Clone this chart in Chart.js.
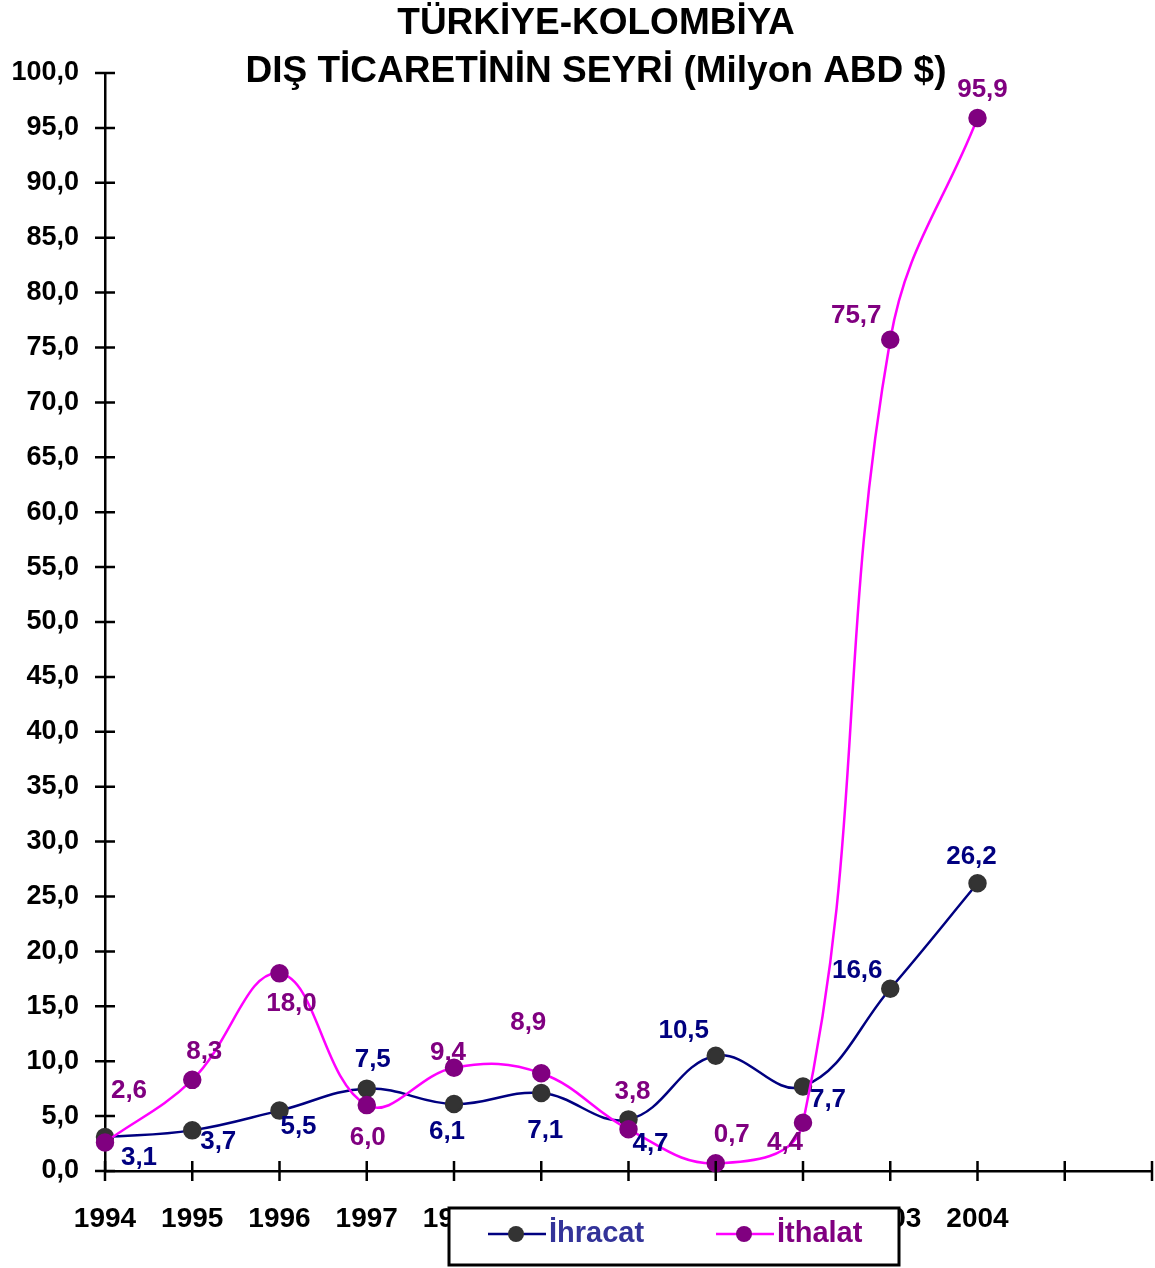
<!DOCTYPE html>
<html>
<head>
<meta charset="utf-8">
<script src="https://cdn.jsdelivr.net/npm/chart.js@4.4.0/dist/chart.umd.min.js"></script>
<style>
  html, body { margin: 0; padding: 0; background: #fff; }
  #wrap { width: 1155px; height: 1268px; position: relative; }
</style>
</head>
<body>
<div id="wrap"><canvas id="chart"></canvas></div>
<script>
// data
const years = ['1994', '1995', '1996', '1997', '1998', '1999', '2000', '2001', '2002', '2003', '2004', '', ''];
const ihracat = [3.1, 3.7, 5.5, 7.5, 6.1, 7.1, 4.7, 10.5, 7.7, 16.6, 26.2];
const ithalat = [2.6, 8.3, 18.0, 6.0, 9.4, 8.9, 3.8, 0.7, 4.4, 75.7, 95.9];
const yMin = 0;
const yMax = 100;
const yStep = 5;

// where each value label sits relative to its point (dx, dy)
const ihracatLabelPos = [[34, 21], [26, 11], [19, 16], [6, -29], [-7, 28], [4, 38], [22, 24], [-32, -25], [25, 13], [-33, -18], [-6, -26]];
const ithalatLabelPos = [[24, -52], [12, -28], [12, 30], [1, 33], [-6, -15], [-13, -50], [4, -37], [16, -28], [-18, 20], [-34, -24], [5, -28]];

const FONT = "'Liberation Sans', Arial, sans-serif";
const fmt = v => v.toFixed(1).replace('.', ',');

const decorPlugin = {
  id: 'decor',
  afterDatasetsDraw(chart) {
    const ctx = chart.ctx;
    ctx.save();
    ctx.font = 'bold 26px ' + FONT;
    ctx.textAlign = 'center';
    ctx.textBaseline = 'middle';
    const sets = [[0, ihracatLabelPos, '#000080'], [1, ithalatLabelPos, '#800080']];
    sets.forEach(([di, pos, col]) => {
      const meta = chart.getDatasetMeta(di);
      const data = chart.data.datasets[di].data;
      ctx.fillStyle = col;
      meta.data.forEach((pt, i) => {
        ctx.fillText(fmt(data[i]), pt.x + pos[i][0], pt.y + pos[i][1]);
      });
    });
    ctx.restore();
  },
  afterDraw(chart) {
    const ctx = chart.ctx;
    const xs = chart.scales.x;
    const ys = chart.scales.y;
    const area = chart.chartArea;
    ctx.save();
    // crossing tick marks
    ctx.strokeStyle = '#000';
    ctx.lineWidth = 2.5;
    ctx.beginPath();
    ys.ticks.forEach((t, i) => {
      const y = ys.getPixelForTick(i);
      ctx.moveTo(area.left - 10, y);
      ctx.lineTo(area.left + 10, y);
    });
    xs.ticks.forEach((t, i) => {
      const x = xs.getPixelForTick(i);
      ctx.moveTo(x, area.bottom - 10);
      ctx.lineTo(x, area.bottom + 10);
    });
    ctx.stroke();

    // title
    ctx.fillStyle = '#000';
    ctx.textAlign = 'center';
    ctx.textBaseline = 'middle';
    ctx.font = 'bold 37px ' + FONT;
    ctx.fillText('TÜRKİYE-KOLOMBİYA', 596, 24);
    ctx.fillText('DIŞ TİCARETİNİN SEYRİ (Milyon ABD $)', 596, 72);

    // legend box
    ctx.fillStyle = '#fff';
    ctx.fillRect(449, 1208, 450, 57);
    ctx.lineWidth = 3;
    ctx.strokeStyle = '#000';
    ctx.strokeRect(449, 1208, 450, 57);
    const items = [
      { label: 'İhracat', line: '#000080', dot: '#333333', text: '#333399', x: 488 },
      { label: 'İthalat', line: '#FF00FF', dot: '#800080', text: '#800080', x: 716 }
    ];
    items.forEach(it => {
      const cy = 1234;
      ctx.strokeStyle = it.line;
      ctx.lineWidth = 2.5;
      ctx.beginPath();
      ctx.moveTo(it.x, cy);
      ctx.lineTo(it.x + 58, cy);
      ctx.stroke();
      ctx.fillStyle = it.dot;
      ctx.beginPath();
      ctx.arc(it.x + 28, cy, 8, 0, Math.PI * 2);
      ctx.fill();
      ctx.fillStyle = it.text;
      ctx.font = 'bold 29px ' + FONT;
      ctx.textAlign = 'left';
      ctx.fillText(it.label, it.x + 61, cy);
    });
    ctx.restore();
  }
};

const ctx = document.getElementById('chart').getContext('2d');
new Chart(ctx, {
  type: 'line',
  data: {
    labels: years,
    datasets: [
      {
        label: 'İhracat',
        data: ihracat,
        borderColor: '#000080',
        backgroundColor: '#333333',
        pointBackgroundColor: '#333333',
        pointBorderColor: '#333333',
        pointRadius: 8,
        borderWidth: 2.5,
        tension: 0.4,
        clip: false,
        order: 2
      },
      {
        label: 'İthalat',
        data: ithalat,
        borderColor: '#FF00FF',
        backgroundColor: '#800080',
        pointBackgroundColor: '#800080',
        pointBorderColor: '#800080',
        pointRadius: 8,
        borderWidth: 2.5,
        tension: 0.4,
        clip: false,
        order: 1
      }
    ]
  },
  options: {
    responsive: true,
    maintainAspectRatio: false,
    animation: false,
    layout: { autoPadding: false, padding: { top: 73, right: 3, left: 0, bottom: 0 } },
    plugins: {
      legend: { display: false },
      title: { display: false },
      tooltip: { enabled: false }
    },
    scales: {
      x: {
        offset: false,
        grid: { display: false },
        border: { display: true, color: '#000', width: 2.5 },
        ticks: {
          autoSkip: false,
          maxRotation: 0,
          padding: 23,
          color: '#000',
          font: { family: FONT, size: 28, weight: 'bold' }
        },
        afterFit: s => { s.height = 97; s.paddingRight = 0; s.paddingLeft = 0; }
      },
      y: {
        min: yMin,
        max: yMax,
        grid: { display: false },
        border: { display: true, color: '#000', width: 2.5 },
        ticks: {
          stepSize: yStep,
          padding: 18,
          color: '#000',
          font: { family: FONT, size: 27, weight: 'bold' },
          callback: v => fmt(v)
        },
        afterFit: s => { s.width = 105; }
      }
    }
  },
  plugins: [decorPlugin]
});
</script>
</body>
</html>
